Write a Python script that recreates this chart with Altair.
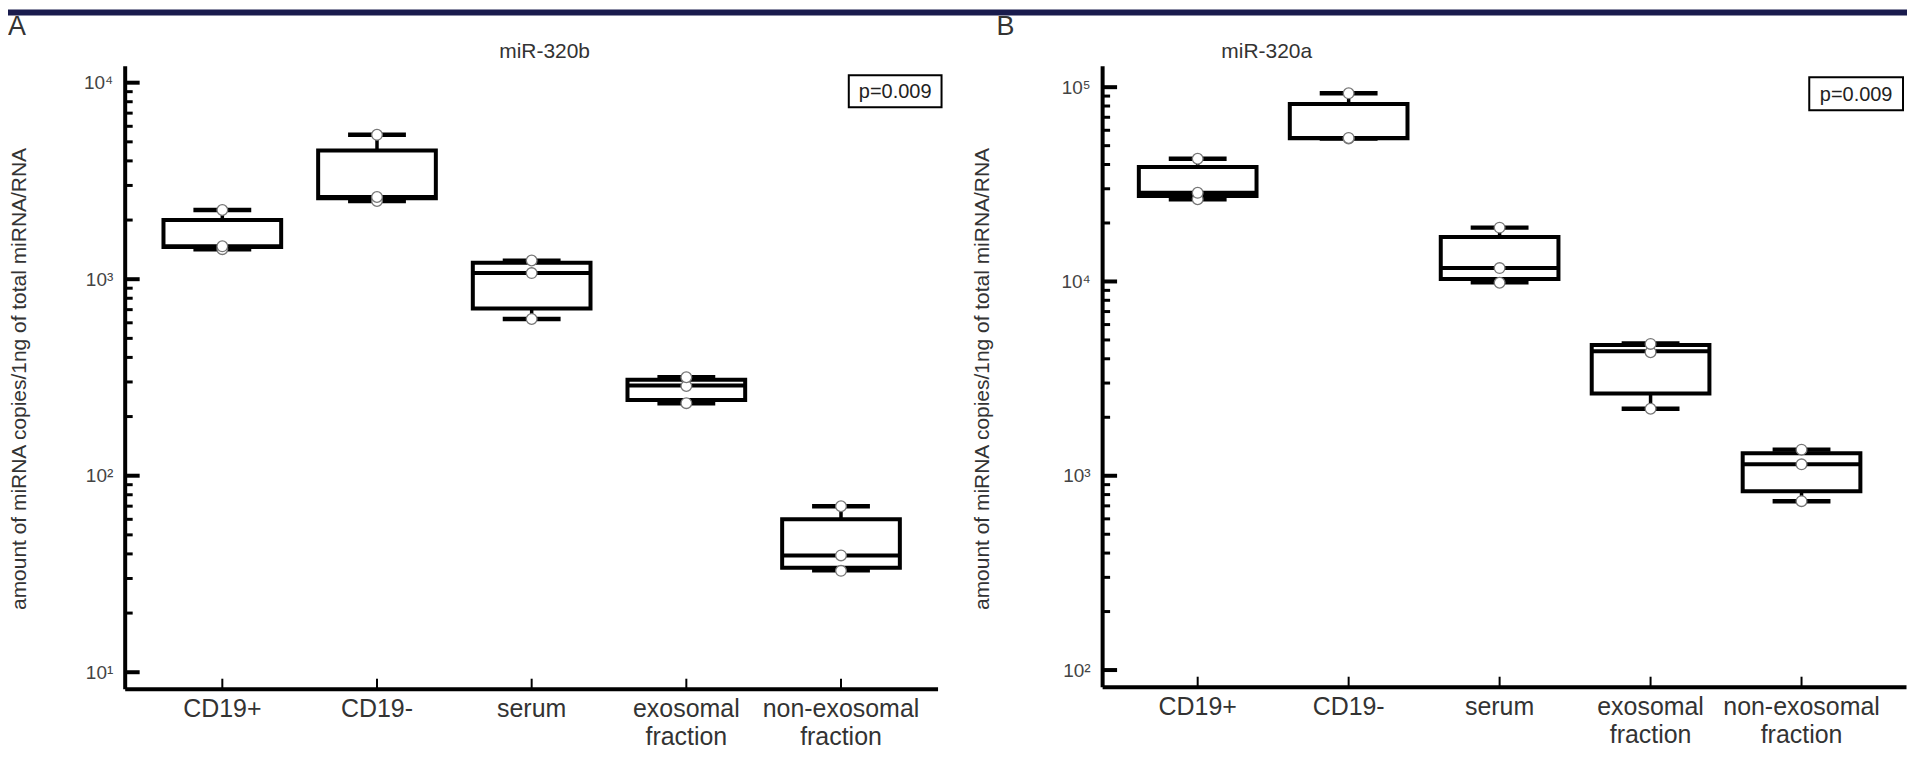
import altair as alt
import pandas as pd

# ---------------- data ----------------
categories = ["CD19+", "CD19-", "serum", "exosomal\nfraction", "non-exosomal\nfraction"]
positions = [1, 2, 3, 4, 5]

# Panel A: miR-320b
a_points = [[1422, 1470, 2250], [2500, 2620, 5430], [627, 1074, 1245], [234, 286, 317], [32.8, 39.3, 69.9]]
a_min = [1422, 2500, 627, 234, 33.0]
a_q1 = [1460, 2580, 710, 243, 34.0]
a_med = [1470, 2620, 1074, 288, 39.3]
a_q3 = [2000, 4520, 1211, 308, 60.1]
a_max = [2250, 5430, 1240, 317, 69.9]

# Panel B: miR-320a
b_points = [[26500, 28600, 42800], [54500, 54800, 93000], [9850, 11720, 18930], [2213, 4325, 4771], [740, 1145, 1363]]
b_min = [26500, 54500, 9900, 2213, 740]
b_q1 = [27540, 54650, 10290, 2652, 832]
b_med = [28600, 54800, 11720, 4373, 1145]
b_q3 = [38800, 82000, 16960, 4716, 1305]
b_max = [42800, 93000, 18930, 4790, 1363]

a_tick_values = [10, 100, 1000, 10000]
a_tick_labels = ["10¹", "10²", "10³", "10⁴"]
a_minor_values = [20, 30, 40, 50, 60, 70, 80, 90,
                  200, 300, 400, 500, 600, 700, 800, 900,
                  2000, 3000, 4000, 5000, 6000, 7000, 8000, 9000]

b_tick_values = [100, 1000, 10000, 100000]
b_tick_labels = ["10²", "10³", "10⁴", "10⁵"]
b_minor_values = [200, 300, 400, 500, 600, 700, 800, 900,
                  2000, 3000, 4000, 5000, 6000, 7000, 8000, 9000,
                  20000, 30000, 40000, 50000, 60000, 70000, 80000, 90000]

y_title = "amount of miRNA copies/1ng of total miRNA/RNA"
p_text = "p=0.009"

FONT = "Liberation Sans"


def label_expr(vals, labs):
    expr = "''"
    for v, l in reversed(list(zip(vals, labs))):
        expr = f"datum.value == {v} ? '{l}' : ({expr})"
    return expr


def panel(letter, title, pts, mins, q1s, meds, q3s, maxs, tvals, tlabs, minor,
          ydom, xdom, W, H, title_x, pbox, ytitle_x, letter_x, band=None):
    stats = pd.DataFrame({"pos": positions, "min": mins, "q1": q1s, "med": meds,
                          "q3": q3s, "max": maxs, "lab": categories})
    pdf = pd.DataFrame([{"pos": p, "v": v} for p, vs in zip(positions, pts) for v in vs])
    major = pd.DataFrame({"t": tvals})
    minor_df = pd.DataFrame({"t": minor})
    one = pd.DataFrame({"k": [0]})

    xs = alt.Scale(domain=xdom, nice=False, zero=False)
    ys = alt.Scale(type="log", domain=ydom, nice=False)
    xax = alt.Axis(labels=False, ticks=False, grid=False, domainWidth=4,
                   domainColor="black", title="")
    yax = alt.Axis(values=tvals, labelExpr=label_expr(tvals, tlabs), ticks=False,
                   grid=False, domainWidth=4, domainColor="black", labelFontSize=19,
                   labelColor="#444", labelPadding=12, title="", labelFont=FONT)

    def X():
        return alt.X("pos:Q", scale=xs, axis=xax)

    def Y(f):
        return alt.Y(f"{f}:Q", scale=ys, axis=yax)

    layers = []
    if band is not None:
        layers.append(alt.Chart(one).mark_rect(color="#191b4d").encode(
            x=alt.value(band[0]), x2=alt.value(band[1]),
            y=alt.value(band[2]), y2=alt.value(band[3])))
    layers.append(alt.Chart(one).mark_text(align="left", baseline="alphabetic", fontSize=27,
                                           font=FONT, color="#333").encode(
        x=alt.value(letter_x), y=alt.value(-31), text=alt.value(letter)))
    layers.append(alt.Chart(one).mark_text(align="center", baseline="alphabetic", fontSize=21,
                                           font=FONT, color="#333").encode(
        x=alt.value(title_x), y=alt.value(-8), text=alt.value(title)))
    layers.append(alt.Chart(one).mark_rect(fill="white", stroke="black", strokeWidth=2).encode(
        x=alt.value(pbox[0]), x2=alt.value(pbox[1]), y=alt.value(pbox[2]), y2=alt.value(pbox[3])))
    layers.append(alt.Chart(one).mark_text(align="center", baseline="middle", fontSize=20,
                                           font=FONT, color="#222").encode(
        x=alt.value((pbox[0] + pbox[1]) / 2), y=alt.value((pbox[2] + pbox[3]) / 2 + 1),
        text=alt.value(p_text)))
    layers.append(alt.Chart(one).mark_text(angle=270, align="center", baseline="middle",
                                           fontSize=21, font=FONT, color="#333").encode(
        x=alt.value(ytitle_x), y=alt.value(314), text=alt.value(y_title)))
    # axis ticks pointing inwards
    layers.append(alt.Chart(major).mark_rule(strokeWidth=4, color="black").encode(
        y=Y("t"), x=alt.value(0), x2=alt.value(15)))
    layers.append(alt.Chart(minor_df).mark_rule(strokeWidth=3, color="black").encode(
        y=Y("t"), x=alt.value(0), x2=alt.value(8)))
    layers.append(alt.Chart(stats).mark_rule(strokeWidth=2, color="black").encode(
        x=X(), y=alt.value(H), y2=alt.value(H - 10)))
    # category labels
    layers.append(alt.Chart(stats).mark_text(align="center", baseline="top", fontSize=25,
                                             font=FONT, color="#333", lineBreak="\n",
                                             lineHeight=28).encode(
        x=X(), y=alt.value(H + 8), text="lab:N"))
    # box plots
    layers.append(alt.Chart(stats).mark_rule(strokeWidth=3.5, color="black").encode(
        x=X(), y=Y("q3"), y2="max:Q"))
    layers.append(alt.Chart(stats).mark_rule(strokeWidth=3.5, color="black").encode(
        x=X(), y=Y("min"), y2="q1:Q"))
    layers.append(alt.Chart(stats).mark_bar(size=118, fill="white", stroke="black",
                                            strokeWidth=4).encode(
        x=X(), y=Y("q1"), y2="q3:Q"))
    layers.append(alt.Chart(stats).mark_tick(orient="horizontal", size=58, thickness=4.5,
                                             color="black", opacity=1).encode(
        x=X(), y=Y("max")))
    layers.append(alt.Chart(stats).mark_tick(orient="horizontal", size=58, thickness=4.5,
                                             color="black", opacity=1).encode(
        x=X(), y=Y("min")))
    layers.append(alt.Chart(stats).mark_tick(orient="horizontal", size=118, thickness=4,
                                             color="black", opacity=1).encode(
        x=X(), y=Y("med")))
    layers.append(alt.Chart(pdf).mark_circle(size=115, fill="white", stroke="#777",
                                             strokeWidth=1.3, opacity=1).encode(
        x=X(), y=Y("v")))
    return alt.layer(*layers).properties(width=W, height=H)


panel_a = panel("A", "miR-320b", a_points, a_min, a_q1, a_med, a_q3, a_max,
                a_tick_values, a_tick_labels, a_minor_values,
                ydom=[8.246, 12185], xdom=[0.401, 5.592], W=815, H=624.5,
                title_x=421, pbox=[726, 819, 9.5, 41.5], ytitle_x=-105, letter_x=-117,
                band=[-117, 1787, -56.5, -50.5])
panel_b = panel("B", "miR-320a", b_points, b_min, b_q1, b_med, b_q3, b_max,
                b_tick_values, b_tick_labels, b_minor_values,
                ydom=[82.1, 128800], xdom=[0.400, 5.659], W=806, H=622.5,
                title_x=165, pbox=[709, 803, 11.5, 44.5], ytitle_x=-119, letter_x=-106)

chart = alt.hconcat(panel_a, panel_b, spacing=165, bounds="flush").properties(
    padding={"left": 0, "top": 0, "right": 0, "bottom": 0},
    background="white",
).configure_view(strokeOpacity=0)

chart.save("out.html", embed_options={"renderer": "svg", "actions": False})
